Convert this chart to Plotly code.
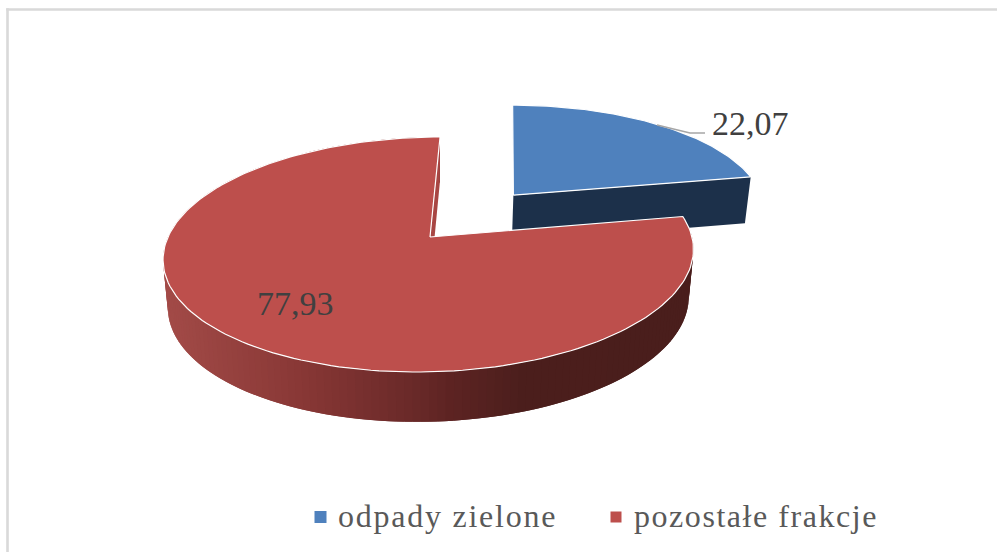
import numpy as np
import plotly.graph_objects as go

# Data
categories = ["odpady zielone", "pozostałe frakcje"]
values = [22.07, 77.93]
value_labels = ["22,07", "77,93"]

# Colours
top_colors = ["#4F81BD", "#BD4F4C"]
blue_wall = "#1C304A"
side_stops_x = [165, 300, 420, 450, 520, 700]
side_stops_rgb = [(163, 75, 72), (137, 56, 54), (104, 41, 40), (94, 36, 35), (76, 31, 29), (74, 30, 28)]

# Projection of the tilted disc onto the page (perspective)
APEX_X, APEX_Y, HALF_W, SKEW_X, TILT_Y, PERSP = 430.0, 237.0, 262.0, 75.6, -79.6, 0.149
DEPTH, DEPTH_PERSP, AXIS_X, AXIS_SHRINK = 47.5, -0.3, 430.0, 0.018
EXPLODE = 0.5


def project(u, v, low=False):
    u, v = np.asarray(u, float), np.asarray(v, float)
    w = 1 + PERSP * v
    x = (APEX_X + HALF_W * u + SKEW_X * v) / w
    y = (APEX_Y + TILT_Y * v) / w
    if low:
        x = x + (AXIS_X - x) * AXIS_SHRINK
        y = y + DEPTH * w ** DEPTH_PERSP
    return x, y


def arc(a0, a1, n, off=(0, 0)):
    t = np.linspace(a0, a1, n)
    return off[0] + np.sin(t), off[1] + np.cos(t)


def poly(x, y, fill, line=None, lw=0.0):
    return go.Scatter(
        x=list(x) + [x[0]], y=list(y) + [y[0]], mode="lines", fill="toself",
        fillcolor=fill, line=dict(color=line or fill, width=lw),
        hoverinfo="skip", showlegend=False,
    )


fig = go.Figure()
cut = 2 * np.pi * values[0] / sum(values)
mid = cut / 2
off = (EXPLODE * np.sin(mid), EXPLODE * np.cos(mid))

# Exploded slice: wall, then face
eu, ev = off[0] + np.sin(cut), off[1] + np.cos(cut)
x1, y1 = project([off[0], eu], [off[1], ev])
x2, y2 = project([eu, off[0]], [ev, off[1]], low=True)
fig.add_trace(poly(np.r_[x1, x2], np.r_[y1, y2], blue_wall))
u, v = arc(0, cut, 80, off)
x, y = project(np.r_[off[0], u], np.r_[off[1], v])
fig.add_trace(poly(x, y, top_colors[0], "#FFFFFF", 1.2))

# Remaining slice: outer wall as overlapping colour strips, cut wall, then face
u, v = arc(cut, 2 * np.pi, 181)
xt, yt = project(u, v)
xb, yb = project(u, v, low=True)
for i in range(len(u) - 1):
    j = min(i + 3, len(u))
    xm = (xt[i] + xt[i + 1]) / 2
    rgb = [int(np.interp(xm, side_stops_x, [s[c] for s in side_stops_rgb])) for c in range(3)]
    col = f"rgb({rgb[0]},{rgb[1]},{rgb[2]})"
    fig.add_trace(poly(np.r_[xt[i:j], xb[i:j][::-1]], np.r_[yt[i:j], yb[i:j][::-1]], col))
x1, y1 = project([0, 0], [0, 1])
x2, y2 = project([0, 0], [1, 0], low=True)
fig.add_trace(poly(np.r_[x1, x2], np.r_[y1, y2], "#A84643"))
x, y = project(np.r_[0, u], np.r_[0, v])
fig.add_trace(poly(x, y, top_colors[1], "#FFFFFF", 1.2))

# Legend squares
fig.add_trace(go.Scatter(x=[320.5], y=[517], mode="markers", name=categories[0], showlegend=False,
                         marker=dict(symbol="square", size=12, color=top_colors[0], line=dict(width=0)), hoverinfo="skip"))
fig.add_trace(go.Scatter(x=[616], y=[517], mode="markers", name=categories[1], showlegend=False,
                         marker=dict(symbol="square", size=11, color=top_colors[1], line=dict(width=0)), hoverinfo="skip"))

SERIF = "Liberation Serif"
ann = [
    dict(x=750, y=123, text=value_labels[0], font=dict(family=SERIF, size=34, color="#404040")),
    dict(x=295.5, y=303, text=value_labels[1], font=dict(family=SERIF, size=34, color="#404040")),
    dict(x=336, y=516, text=categories[0], xanchor="left", align="left", font=dict(family=SERIF, size=32, color="#595959")),
    dict(x=632, y=516, text=categories[1], xanchor="left", align="left", font=dict(family=SERIF, size=32, color="#595959")),
]
for a in ann:
    a.setdefault("xanchor", "center")
    a.update(yanchor="middle", showarrow=False, xref="x", yref="y")

frame = "#D9D9D9"
fig.update_layout(
    width=997, height=552, margin=dict(l=0, r=0, t=0, b=0),
    paper_bgcolor="#FFFFFF", plot_bgcolor="#FFFFFF", showlegend=False,
    xaxis=dict(range=[0, 997], visible=False, fixedrange=True),
    yaxis=dict(range=[552, 0], visible=False, fixedrange=True),
    annotations=ann,
    shapes=[
        dict(type="path", path="M657,125 L690,133 L705,133", line=dict(color="#A6A6A6", width=1.6), xref="x", yref="y"),
        dict(type="line", x0=7.5, y0=8.3, x1=7.5, y1=552, line=dict(color=frame, width=2.6), xref="x", yref="y"),
        dict(type="line", x0=6.2, y0=9.5, x1=997, y1=9.5, line=dict(color=frame, width=2.4), xref="x", yref="y"),
    ],
)

post = """
document.body.style.margin = '0';
document.body.style.overflow = 'hidden';
document.querySelectorAll('.annotation-text').forEach(function(t){
  var s = t.textContent;
  if (s.length > 6) { t.style.letterSpacing = s.startsWith('odpady') ? '1.75px' : '1.55px'; }
});
"""
fig.write_html("out.html", post_script=post, config=dict(displayModeBar=False))
